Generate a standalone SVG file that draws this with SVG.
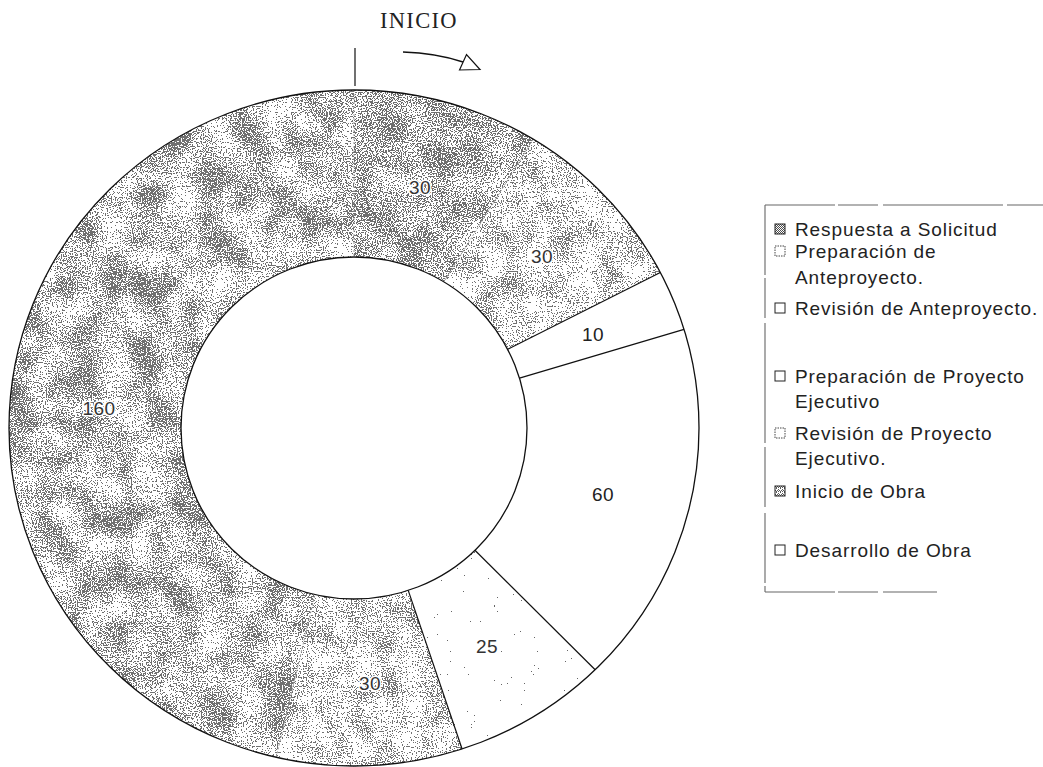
<svg xmlns="http://www.w3.org/2000/svg" width="1043" height="767" viewBox="0 0 1043 767">
  <style>
    .ring { stroke: #111; stroke-width: 1.3; fill: none; }
    .cut { stroke: #111; stroke-width: 1.2; fill: none; }
    .faint { stroke: #8a8a8a; stroke-width: 0.9; stroke-dasharray: 2 2; fill: none; }
    .val { font-family: "Liberation Sans", Arial, sans-serif; font-size: 19px; text-anchor: middle; letter-spacing: 0.5px; }
    .solid { fill: #222; }
    .hollow { fill: #333; stroke: #fff; stroke-width: 3; stroke-linejoin: round; paint-order: stroke; }
    .leg { font-family: "Liberation Sans", Arial, sans-serif; font-size: 19px; fill: #222; letter-spacing: 0.9px; }
    .box { stroke: #222; stroke-width: 1; }
    .boxdot { stroke: #444; stroke-width: 1; stroke-dasharray: 1.5 1; }
    .frame { stroke: #666; stroke-width: 1.1; fill: none; stroke-dasharray: 70 3 40 5 120 4 60 6; }
    .ink { fill: #505050; }
  </style>
  <defs>
    <!-- photocopy-style grain: fine noise plus mild blotches, thresholded to pixels -->
    <filter id="grainDark" filterUnits="userSpaceOnUse" x="0" y="0" width="1043" height="767" color-interpolation-filters="sRGB">
      <feTurbulence type="fractalNoise" baseFrequency="0.8" numOctaves="1" seed="2" result="f0"/>
      <feColorMatrix in="f0" type="matrix" values="1 0 0 0 0  0 1 0 0 0  0 0 1 0 0  0 0 0 0 1" result="fine"/>
      <feTurbulence type="fractalNoise" baseFrequency="0.035" numOctaves="2" seed="7" result="c0"/>
      <feColorMatrix in="c0" type="matrix" values="1 0 0 0 0  0 1 0 0 0  0 0 1 0 0  0 0 0 0 1" result="coarse"/>
      <feComposite in="fine" in2="coarse" operator="arithmetic" k1="0" k2="2" k3="0.5" k4="-0.78" result="mix"/>
      <feColorMatrix in="mix" type="matrix" values="0 0 0 0 0  0 0 0 0 0  0 0 0 0 0  1 0 0 0 0" result="al"/>
      <feComponentTransfer in="al"><feFuncA type="discrete" tableValues="0 1"/></feComponentTransfer>
      <feComposite in2="SourceGraphic" operator="in" result="dots"/>
      <feFlood flood-color="#6e6e6e"/>
      <feComposite in2="dots" operator="in"/>
    </filter>
    <filter id="grainMid" filterUnits="userSpaceOnUse" x="0" y="0" width="1043" height="767" color-interpolation-filters="sRGB">
      <feTurbulence type="fractalNoise" baseFrequency="0.8" numOctaves="1" seed="11" result="f0"/>
      <feColorMatrix in="f0" type="matrix" values="1 0 0 0 0  0 1 0 0 0  0 0 1 0 0  0 0 0 0 1" result="fine"/>
      <feTurbulence type="fractalNoise" baseFrequency="0.03" numOctaves="2" seed="5" result="c0"/>
      <feColorMatrix in="c0" type="matrix" values="1 0 0 0 0  0 1 0 0 0  0 0 1 0 0  0 0 0 0 1" result="coarse"/>
      <feComposite in="fine" in2="coarse" operator="arithmetic" k1="0" k2="2" k3="0.8" k4="-0.97" result="mix"/>
      <feColorMatrix in="mix" type="matrix" values="0 0 0 0 0  0 0 0 0 0  0 0 0 0 0  1 0 0 0 0" result="al"/>
      <feComponentTransfer in="al"><feFuncA type="discrete" tableValues="0 1"/></feComponentTransfer>
      <feComposite in2="SourceGraphic" operator="in" result="dots"/>
      <feFlood flood-color="#707070"/>
      <feComposite in2="dots" operator="in"/>
    </filter>
    <filter id="grainLight" filterUnits="userSpaceOnUse" x="0" y="0" width="1043" height="767" color-interpolation-filters="sRGB">
      <feTurbulence type="fractalNoise" baseFrequency="0.8" numOctaves="1" seed="23" result="f0"/>
      <feColorMatrix in="f0" type="matrix" values="1 0 0 0 0  0 1 0 0 0  0 0 1 0 0  0 0 0 0 1" result="fine"/>
      <feTurbulence type="fractalNoise" baseFrequency="0.04" numOctaves="2" seed="9" result="c0"/>
      <feColorMatrix in="c0" type="matrix" values="1 0 0 0 0  0 1 0 0 0  0 0 1 0 0  0 0 0 0 1" result="coarse"/>
      <feComposite in="fine" in2="coarse" operator="arithmetic" k1="0" k2="2" k3="0.7" k4="-1.02" result="mix"/>
      <feColorMatrix in="mix" type="matrix" values="0 0 0 0 0  0 0 0 0 0  0 0 0 0 0  1 0 0 0 0" result="al"/>
      <feComponentTransfer in="al"><feFuncA type="discrete" tableValues="0 1"/></feComponentTransfer>
      <feComposite in2="SourceGraphic" operator="in" result="dots"/>
      <feFlood flood-color="#727272"/>
      <feComposite in2="dots" operator="in"/>
    </filter>
    <filter id="grainSpeck" filterUnits="userSpaceOnUse" x="0" y="0" width="1043" height="767" color-interpolation-filters="sRGB">
      <feTurbulence type="fractalNoise" baseFrequency="0.7" numOctaves="1" seed="31" result="f0"/>
      <feColorMatrix in="f0" type="matrix" values="0 0 0 0 0  0 0 0 0 0  0 0 0 0 0  2 0 0 0 -1.0" result="al"/>
      <feComponentTransfer in="al"><feFuncA type="discrete" tableValues="0 1"/></feComponentTransfer>
      <feComposite in2="SourceGraphic" operator="in" result="dots"/>
      <feFlood flood-color="#666"/>
      <feComposite in2="dots" operator="in"/>
    </filter>
    <pattern id="swDark" width="2" height="2" patternUnits="userSpaceOnUse">
      <rect width="2" height="2" fill="#fff"/>
      <rect x="0" y="0" width="1" height="1" fill="#4d4d4d"/>
      <rect x="1" y="1" width="1" height="1" fill="#4d4d4d"/>
    </pattern>
    <pattern id="swLight" width="4" height="4" patternUnits="userSpaceOnUse">
      <rect width="4" height="4" fill="#fff"/>
      <path d="M0,0h1v1h-1z M2,1h1v1h-1z M1,2h1v1h-1z M3,2h1v1h-1z M0,3h1v1h-1z M2,3h1v1h-1z" fill="#5a5a5a"/>
    </pattern>
  </defs>

  <rect width="1043" height="767" fill="#fff"/>

  <!-- ring segments, clockwise from the top -->
  <g id="seg-respuesta">
    <path class="ink" filter="url(#grainDark)" d="M354,90 A345,338 0 0 1 533.26,139.21 L443.89,281.89 A173,171 0 0 0 354,257 Z"/>
    <text class="val hollow" x="420" y="194">30</text>
  </g>
  <g id="seg-prep-anteproyecto">
    <path class="ink" filter="url(#grainLight)" d="M533.26,139.21 A345,338 0 0 1 660.33,272.51 L507.61,349.33 A173,171 0 0 0 443.89,281.89 Z"/>
    <text class="val hollow" x="542" y="263">30</text>
  </g>
  <g id="seg-rev-anteproyecto">
    <path d="M660.33,272.51 A345,338 0 0 1 684,329.42 L519.48,378.12 A173,171 0 0 0 507.61,349.33 Z" fill="#fff"/>
    <text class="val solid" x="593" y="341">10</text>
  </g>
  <g id="seg-prep-proyecto">
    <path d="M684,329.42 A345,338 0 0 1 595.16,669.71 L474.93,550.28 A173,171 0 0 0 519.48,378.12 Z" fill="#fff"/>
    <text class="val solid" x="603" y="501">60</text>
  </g>
  <g id="seg-rev-proyecto">
    <path class="ink" filter="url(#grainSpeck)" d="M595.16,669.71 A345,338 0 0 1 462.1,748.98 L408.21,590.39 A173,171 0 0 0 474.93,550.28 Z"/>
    <text class="val hollow" x="487" y="653">25</text>
  </g>
  <g id="seg-inicio-obra">
    <path class="ink" filter="url(#grainLight)" d="M462.1,748.98 A345,338 0 0 1 276.14,757.28 L314.96,594.59 A173,171 0 0 0 408.21,590.39 Z"/>
    <text class="val hollow" x="370" y="690">30</text>
  </g>
  <g id="seg-desarrollo">
    <path class="ink" filter="url(#grainMid)" d="M276.14,757.28 A345,338 0 0 1 354,90 L354,257 A173,171 0 0 0 314.96,594.59 Z"/>
    <text class="val hollow" x="99" y="415">160</text>
  </g>

  <!-- segment dividers and ring outlines -->
  <g id="dividers">
    <line class="faint" x1="354" y1="90" x2="354" y2="257"/>
    <line class="faint" x1="533.26" y1="139.21" x2="443.89" y2="281.89"/>
    <line class="cut" x1="660.33" y1="272.51" x2="507.61" y2="349.33"/>
    <line class="cut" x1="684" y1="329.42" x2="519.48" y2="378.12"/>
    <line class="cut" x1="595.16" y1="669.71" x2="474.93" y2="550.28"/>
    <line class="cut" x1="462.1" y1="748.98" x2="408.21" y2="590.39"/>
    <line class="faint" x1="276.14" y1="757.28" x2="314.96" y2="594.59"/>
    <ellipse class="ring" cx="354" cy="428" rx="345" ry="338"/>
    <ellipse class="ring" cx="354" cy="428" rx="173" ry="171"/>
  </g>

  <!-- start marker and direction arrow -->
  <g id="connectors">
    <line x1="355" y1="48" x2="355" y2="86" stroke="#111" stroke-width="1.2"/>
    <path d="M403,52 Q436,53 463,62" fill="none" stroke="#111" stroke-width="1.5"/>
    <polygon points="459.5,70 466.5,54.5 480,69.5" fill="#fff" stroke="#111" stroke-width="1.2"/>
  </g>

  <g id="title">
    <text x="380" y="28" font-family="Liberation Serif, 'Times New Roman', serif" font-size="22.5" letter-spacing="1.3" fill="#222">INICIO</text>
  </g>

  <!-- legend -->
  <g id="legend">
    <line class="frame" x1="765" y1="205" x2="765" y2="592"/>
    <line class="frame" x1="765" y1="592" x2="937" y2="592"/>
    <line class="frame" x1="765" y1="205" x2="1043" y2="205"/>

    <g id="leg-respuesta">
      <rect class="box" x="775" y="224" width="10" height="10" fill="url(#swDark)"/>
      <text class="leg" x="795" y="236">Respuesta a Solicitud</text>
    </g>
    <g id="leg-prep-anteproyecto">
      <rect class="boxdot" x="775" y="246" width="10" height="10" fill="#fff"/>
      <text class="leg" x="795" y="258">Preparación de</text>
      <text class="leg" x="795" y="284">Anteproyecto.</text>
    </g>
    <g id="leg-rev-anteproyecto">
      <rect class="box" x="775" y="303" width="10" height="10" fill="#fff"/>
      <text class="leg" x="795" y="315">Revisión de Anteproyecto.</text>
    </g>
    <g id="leg-prep-proyecto">
      <rect class="box" x="775" y="371" width="10" height="10" fill="#fff"/>
      <text class="leg" x="795" y="383">Preparación de Proyecto</text>
      <text class="leg" x="795" y="408">Ejecutivo</text>
    </g>
    <g id="leg-rev-proyecto">
      <rect class="boxdot" x="775" y="428" width="10" height="10" fill="#fff"/>
      <text class="leg" x="795" y="440">Revisión de Proyecto</text>
      <text class="leg" x="795" y="465">Ejecutivo.</text>
    </g>
    <g id="leg-inicio-obra">
      <rect class="box" x="775" y="486" width="10" height="10" fill="url(#swLight)"/>
      <text class="leg" x="795" y="498">Inicio de Obra</text>
    </g>
    <g id="leg-desarrollo">
      <rect class="box" x="775" y="545" width="10" height="10" fill="#fff"/>
      <text class="leg" x="795" y="557">Desarrollo de Obra</text>
    </g>
  </g>
</svg>
